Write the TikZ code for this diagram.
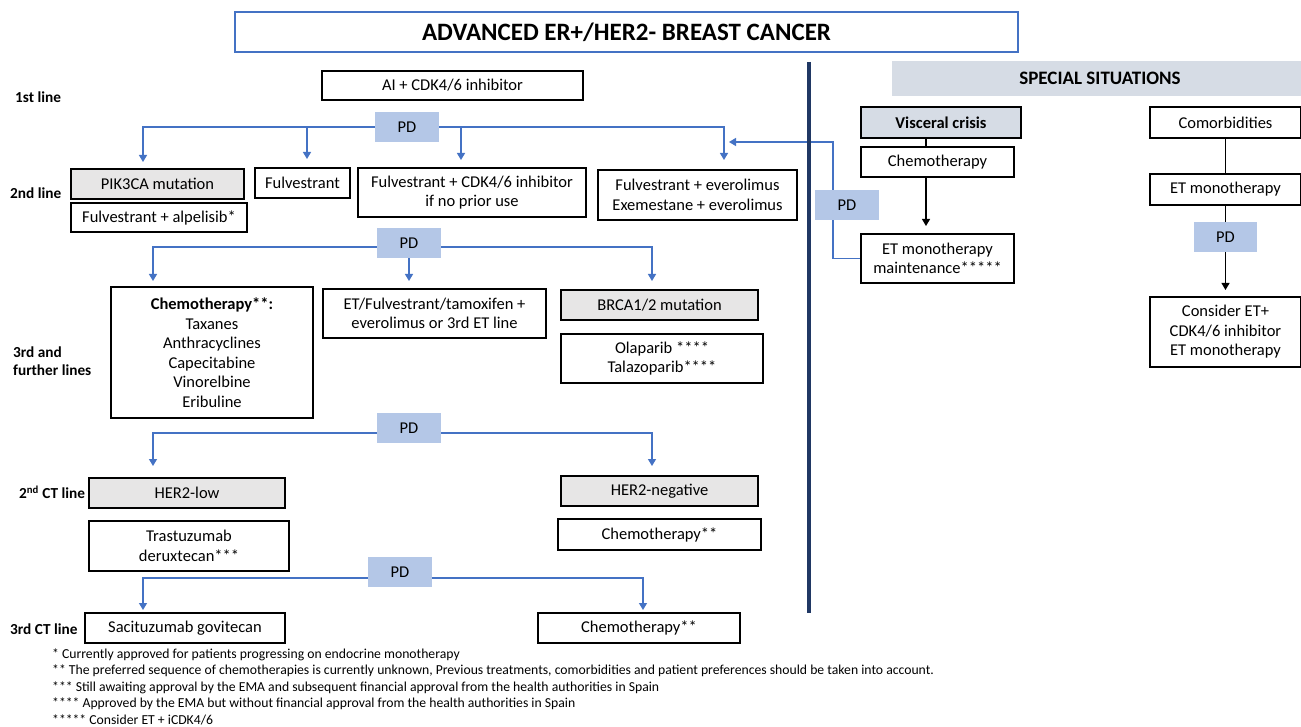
\documentclass[tikz,border=0pt]{standalone}
\usepackage{fontspec}
\setmainfont{Carlito}
\usetikzlibrary{arrows.meta}
\definecolor{lnblue}{HTML}{4472C4}
\definecolor{pdblue}{HTML}{B4C7E7}
\definecolor{boxgrey}{HTML}{E7E6E6}
\definecolor{sitblue}{HTML}{D6DCE5}
\definecolor{navy}{HTML}{203864}
\pgfdeclarelayer{back}
\pgfdeclarelayer{bg}
\pgfsetlayers{back,bg,main}
\begin{document}
\begin{tikzpicture}[x=1pt,y=-1pt,
  box/.style={draw=black, line width=1.1pt, fill=white, inner sep=0pt, align=center, font=\fontsize{16.5}{19.5}\selectfont, text=black},
  gbox/.style={box, fill=boxgrey},
  pdbox/.style={fill=pdblue, inner sep=0pt, minimum width=64pt, minimum height=30pt, font=\fontsize{16.5}{19.5}\selectfont},
  bl/.style={draw=lnblue, line width=1.2pt},
  barr/.style={bl, -{Triangle[width=8pt,length=7pt]}},
  kl/.style={draw=black, line width=1.1pt},
  karr/.style={kl, -{Triangle[width=8pt,length=7pt]}},
  lab/.style={font=\bfseries\fontsize{15.3}{18}\selectfont, anchor=west, align=left, inner sep=0pt},
  fn/.style={font=\fontsize{13.7}{15}\selectfont, anchor=west, inner sep=0pt}]
\useasboundingbox (0,0) rectangle (1301,727);
\begin{pgfonlayer}{back}
\fill[white] (0,0) rectangle (1301,727);
\end{pgfonlayer}

% title
\node[box, draw=lnblue, minimum width=783pt, minimum height=40pt, font=\bfseries\fontsize{25}{29}\selectfont] (title) at (626.5,32) {ADVANCED ER+/HER2- BREAST CANCER};

% divider
\draw[navy, line width=4pt] (809,62) -- (809,613);

% row labels
\node[lab] (l1) at (15,97) {1st line};
\node[lab] (l2) at (10,193) {2nd line};
\node[lab] (l3) at (13,361) {3rd and\\further lines};
\node[lab] (l4) at (19,492) {2\textsuperscript{nd} CT line};
\node[lab] (l5) at (10,629) {3rd CT line};

% 1st line
\node[box, minimum width=261pt, minimum height=29pt] (ai) at (452.5,85.5) {AI + CDK4/6 inhibitor};
\node[pdbox] (pd1) at (407,127) {PD};

% 2nd line
\node[gbox, minimum width=173pt, minimum height=30pt] (pik) at (157.5,184) {PIK3CA mutation};
\node[box, minimum width=176pt, minimum height=29pt] (alp) at (159,217.5) {Fulvestrant + alpelisib*};
\node[box, minimum width=95pt, minimum height=30pt] (fulv) at (302.5,183) {Fulvestrant};
\node[box, minimum width=228pt, minimum height=49pt] (fcdk) at (472,192.5) {Fulvestrant + CDK4/6 inhibitor\\if no prior use};
\node[box, minimum width=199pt, minimum height=50pt] (feve) at (697.5,195) {Fulvestrant + everolimus\\Exemestane + everolimus};
\node[pdbox] (pd2) at (409,243) {PD};

% 3rd line
\node[box, minimum width=202pt, minimum height=131pt] (chemo) at (212,352.5) {\textbf{Chemotherapy**:}\\Taxanes\\Anthracyclines\\Capecitabine\\Vinorelbine\\Eribuline};
\node[box, minimum width=223pt, minimum height=49pt] (etf) at (434.5,313.5) {ET/Fulvestrant/tamoxifen +\\everolimus or 3rd ET line};
\node[gbox, minimum width=197pt, minimum height=30pt] (brca) at (659.5,305) {BRCA1/2 mutation};
\node[box, minimum width=202pt, minimum height=49pt] (ola) at (662,358.5) {Olaparib ****\\Talazoparib****};
\node[pdbox] (pd3) at (409,428) {PD};

% 2nd CT line
\node[gbox, minimum width=196pt, minimum height=30pt] (hlow) at (187,493) {HER2-low};
\node[box, minimum width=200pt, minimum height=50pt] (tras) at (189,546) {Trastuzumab\\deruxtecan***};
\node[gbox, minimum width=197pt, minimum height=30pt] (hneg) at (659.5,491) {HER2-negative};
\node[box, minimum width=203pt, minimum height=31pt] (chemo2) at (659.5,534.5) {Chemotherapy**};
\node[pdbox] (pd4) at (400,572) {PD};

% 3rd CT line
\node[box, minimum width=200pt, minimum height=30pt] (saci) at (185,628) {Sacituzumab govitecan};
\node[box, minimum width=202pt, minimum height=30pt] (chemo3) at (639,628) {Chemotherapy**};

% special situations
\node[fill=sitblue, minimum width=409pt, minimum height=35pt, inner sep=0pt, font=\bfseries\fontsize{19}{22}\selectfont] (spec) at (1096.5,78.5) {\hspace*{7pt}SPECIAL SITUATIONS};
\node[box, fill=sitblue, minimum width=160pt, minimum height=31pt, font=\bfseries\fontsize{16.5}{19.5}\selectfont] (visc) at (941,122.5) {Visceral crisis};
\node[box, minimum width=153pt, minimum height=30pt] (chemoR) at (937.5,162) {Chemotherapy};
\node[box, minimum width=153pt, minimum height=49pt] (etmm) at (937.5,258.5) {ET monotherapy\\maintenance*****};
\node[pdbox] (pdR1) at (847,205) {PD};
\node[box, minimum width=151pt, minimum height=31pt] (comorb) at (1225.5,122.5) {Comorbidities};
\node[box, minimum width=151pt, minimum height=31pt] (etmR) at (1225.5,189.5) {ET monotherapy};
\node[pdbox, minimum width=63pt] (pdR2) at (1225.5,237) {PD};
\node[box, minimum width=151pt, minimum height=70pt] (consider) at (1225.5,332) {Consider ET+\\CDK4/6 inhibitor\\ET monotherapy};

% footnotes
\node[fn] (f1) at (52,655) {* Currently approved for patients progressing on endocrine monotherapy};
\node[fn] (f2) at (52,671) {** The preferred sequence of chemotherapies is currently unknown, Previous treatments, comorbidities and patient preferences should be taken into account.};
\node[fn] (f3) at (52,688) {*** Still awaiting approval by the EMA and subsequent financial approval from the health authorities in Spain};
\node[fn] (f4) at (52,704) {**** Approved by the EMA but without financial approval from the health authorities in Spain};
\node[fn] (f5) at (52,720) {***** Consider ET + iCDK4/6};

% connectors
\coordinate (t1a) at (143,162);
\coordinate (t1b) at (307,159);
\coordinate (t1c) at (461,160);
\coordinate (t1d) at (724,160);
\coordinate (fbc) at (833,142);
\coordinate (fbtip) at (729,142);
\coordinate (h2) at (0,247);
\coordinate (t2a) at (153,281);
\coordinate (t2b) at (409,281);
\coordinate (t2c) at (652,281);
\coordinate (h3) at (0,433);
\coordinate (t3a) at (153,466);
\coordinate (t3c) at (652,466);
\coordinate (h4) at (0,578);
\coordinate (t4a) at (143,610);
\coordinate (t4c) at (643,610);
\coordinate (vx) at (926,0);
\coordinate (k1) at (926,226);
\coordinate (k2) at (1225.5,290);
\begin{pgfonlayer}{bg}
\draw[barr] (pd1.west) -| (t1a);
\draw[barr] (pd1.east) -| (t1d);
\draw[barr] (t1b |- pd1.center) -- (t1b);
\draw[barr] (t1c |- pd1.center) -- (t1c);
\draw[barr] (etmm.west) -| (fbc) -- (fbtip);
\draw[barr] (pd2.west |- h2) -| (t2a);
\draw[barr] (pd2.east |- h2) -| (t2c);
\draw[barr] (pd2.south) -- (t2b);
\draw[barr] (pd3.west |- h3) -| (t3a);
\draw[barr] (pd3.east |- h3) -| (t3c);
\draw[barr] (pd4.west |- h4) -| (t4a);
\draw[barr] (pd4.east |- h4) -| (t4c);
\draw[kl] (visc.south -| vx) -- (chemoR.north -| vx);
\draw[karr] (chemoR.south -| vx) -- (k1);
\draw[kl] (comorb.south) -- (etmR.north);
\draw[kl] (etmR.south) -- (pdR2.north);
\draw[karr] (pdR2.south) -- (k2);
\end{pgfonlayer}
\end{tikzpicture}
\end{document}
